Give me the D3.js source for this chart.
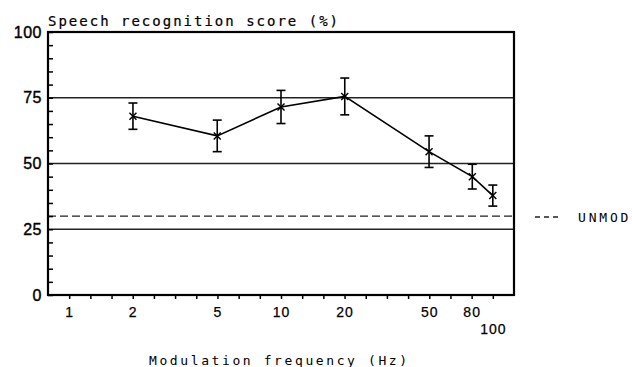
<!DOCTYPE html>
<html>
<head>
<meta charset="utf-8">
<script src="https://cdn.jsdelivr.net/npm/d3@7"></script>
<style>
  body { margin: 0; background: #fff; }
  svg { display: block; font-family: "DejaVu Sans Mono", monospace; }
</style>
</head>
<body>
<svg id="chart" width="632" height="367"></svg>
<script>
// Data
const freqs = [2, 5, 10, 20, 50, 80, 100];
const scores = [68, 60.5, 71.5, 75.5, 54.5, 45, 37.8];
const errs = [5, 6, 6.3, 7, 6, 4.7, 4];
const unmodScore = 30;
const refLines = [25, 50, 75];
const xLabels = [1, 2, 5, 10, 20, 50, 80, 100];
const yLabels = [0, 25, 50, 75, 100];

const m = {left: 48, right: 514, top: 32, bottom: 295};
const svg = d3.select("#chart");

const x = d3.scaleLog().domain([Math.pow(10, -0.1), Math.pow(10, 2.1)]).range([m.left, m.right]);
const y = d3.scaleLinear().domain([0, 100]).range([m.bottom, m.top]);

// horizontal reference lines
svg.selectAll(".ref").data(refLines).join("line")
    .attr("class", "ref")
    .attr("x1", m.left).attr("x2", m.right)
    .attr("y1", d => y(d)).attr("y2", d => y(d))
    .attr("stroke", "#222").attr("stroke-width", 1.3);

// unmodulated baseline (dashed)
svg.append("line")
    .attr("x1", m.left).attr("x2", m.right)
    .attr("y1", y(unmodScore)).attr("y2", y(unmodScore))
    .attr("stroke", "#222").attr("stroke-width", 1.3)
    .attr("stroke-dasharray", "8 4");

// x axis: a tick every tenth of a decade, labelled where a label is close
const xTicks = d3.range(0, 21).map(k => Math.pow(10, k / 10));
const labelFor = d => xLabels.find(l => Math.abs(Math.log10(l) - Math.log10(d)) < 0.03);
const xAxis = d3.axisBottom(x)
    .tickValues(xTicks)
    .tickSize(4)
    .tickPadding(8)
    .tickFormat(d => {
        const l = labelFor(d);
        return l === undefined ? "" : String(l);
    });
const gx = svg.append("g").attr("transform", `translate(0,${m.bottom})`).call(xAxis);
gx.select(".domain").remove();
gx.selectAll("line").attr("stroke", "#000").attr("stroke-width", 1.5);
gx.selectAll("text")
    .attr("font-size", 14).attr("letter-spacing", 1).attr("fill", "#000")
    .attr("stroke", "#000").attr("stroke-width", 0.25)
    .attr("dy", d => labelFor(d) === 100 ? "1.9em" : "0.71em");

// y axis: minor ticks every 5, pointing inward
const yAxis = d3.axisLeft(y)
    .tickValues(d3.range(0, 101, 5))
    .tickSize(-5)
    .tickPadding(6)
    .tickFormat(d => yLabels.includes(d) ? String(d) : "");
const gy = svg.append("g").attr("transform", `translate(${m.left},0)`).call(yAxis);
gy.select(".domain").remove();
gy.selectAll("line").attr("stroke", "#000").attr("stroke-width", 1.5);
gy.selectAll("text")
    .attr("font-size", 16).attr("letter-spacing", 0.5).attr("fill", "#000")
    .attr("stroke", "#000").attr("stroke-width", 0.4);

// frame
svg.append("rect")
    .attr("x", m.left).attr("y", m.top)
    .attr("width", m.right - m.left).attr("height", m.bottom - m.top)
    .attr("fill", "none").attr("stroke", "#000").attr("stroke-width", 2.2);

// data line
const pts = freqs.map((f, i) => ({f, s: scores[i], e: errs[i]}));
svg.append("path")
    .datum(pts)
    .attr("fill", "none").attr("stroke", "#000").attr("stroke-width", 1.6)
    .attr("d", d3.line().x(d => x(d.f)).y(d => y(d.s)));

// error bars
const eb = svg.selectAll(".eb").data(pts).join("g").attr("class", "eb")
    .attr("stroke", "#000").attr("stroke-width", 1.6);
eb.append("line")
    .attr("x1", d => x(d.f)).attr("x2", d => x(d.f))
    .attr("y1", d => y(d.s + d.e)).attr("y2", d => y(d.s - d.e));
eb.append("line")
    .attr("x1", d => x(d.f) - 4.5).attr("x2", d => x(d.f) + 4.5)
    .attr("y1", d => y(d.s + d.e)).attr("y2", d => y(d.s + d.e));
eb.append("line")
    .attr("x1", d => x(d.f) - 4.5).attr("x2", d => x(d.f) + 4.5)
    .attr("y1", d => y(d.s - d.e)).attr("y2", d => y(d.s - d.e));

// x markers
const mk = svg.selectAll(".mk").data(pts).join("g").attr("class", "mk")
    .attr("stroke", "#000").attr("stroke-width", 1.4);
mk.append("line")
    .attr("x1", d => x(d.f) - 3.5).attr("x2", d => x(d.f) + 3.5)
    .attr("y1", d => y(d.s) - 3.5).attr("y2", d => y(d.s) + 3.5);
mk.append("line")
    .attr("x1", d => x(d.f) - 3.5).attr("x2", d => x(d.f) + 3.5)
    .attr("y1", d => y(d.s) + 3.5).attr("y2", d => y(d.s) - 3.5);

// titles
svg.append("text")
    .attr("x", m.left).attr("y", 26)
    .attr("font-size", 14).attr("letter-spacing", 2)
    .attr("stroke", "#000").attr("stroke-width", 0.2)
    .text("Speech recognition score (%)");

svg.append("text")
    .attr("x", 149).attr("y", 365)
    .attr("font-size", 13).attr("letter-spacing", 2.6)
    .text("Modulation frequency (Hz)");

// legend
svg.append("line")
    .attr("x1", 535).attr("x2", 558)
    .attr("y1", 217).attr("y2", 217)
    .attr("stroke", "#222").attr("stroke-width", 1.3)
    .attr("stroke-dasharray", "5 4");
svg.append("text")
    .attr("x", 578).attr("y", 217).attr("dy", "0.36em")
    .attr("font-size", 13).attr("letter-spacing", 2.8)
    .text("UNMOD");
</script>
</body>
</html>
